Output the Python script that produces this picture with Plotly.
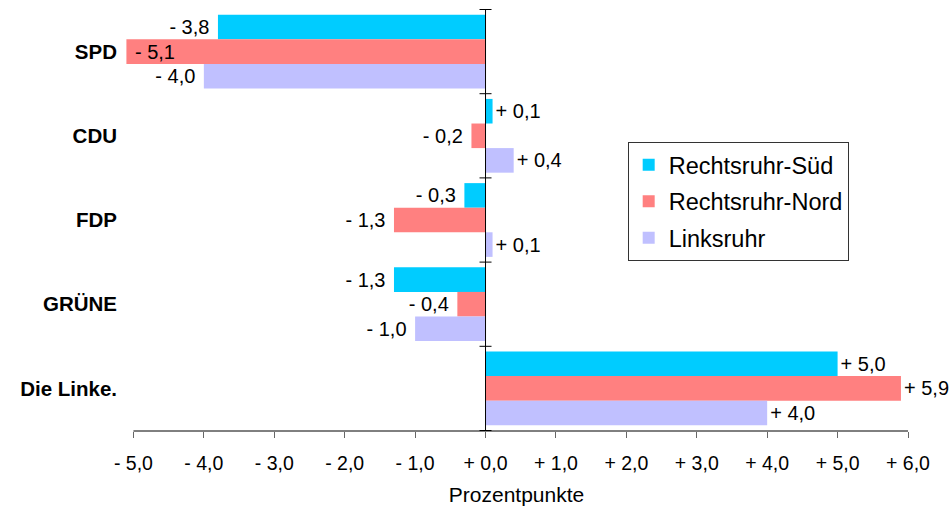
import plotly.graph_objects as go

categories = ["SPD", "CDU", "FDP", "GRÜNE", "Die Linke."]
series_names = ["Rechtsruhr-Süd", "Rechtsruhr-Nord", "Linksruhr"]
sued = [-3.8, 0.1, -0.3, -1.3, 5.0]
nord = [-5.1, -0.2, -1.3, -0.4, 5.9]
links = [-4.0, 0.4, 0.1, -1.0, 4.0]
colors = ["#00CCFF", "#FF8080", "#C0C0FF"]
tick_values = [-5, -4, -3, -2, -1, 0, 1, 2, 3, 4, 5, 6]
axis_title = "Prozentpunkte"

FONT = "Liberation Sans, Arial, sans-serif"
X_RANGE = [-5.12, 6]
NBSP = "\u00a0"


def fmt(v):
    return ("+ " if v >= 0 else "- ") + f"{abs(v):.1f}".replace(".", ",")


def label(v):
    if v < tick_values[0]:
        return NBSP + fmt(v)
    return fmt(v) if v >= 0 else (fmt(v) + NBSP)


tick_text = [fmt(v) for v in tick_values]

fig = go.Figure()
for name, vals, col in zip(series_names, [sued, nord, links], colors):
    positions = ["inside" if v < tick_values[0] else "outside" for v in vals]
    fig.add_trace(go.Bar(
        y=categories, x=vals, name=name, orientation="h",
        marker=dict(color=col, line=dict(width=0)),
        text=[label(v) for v in vals],
        textposition=positions,
        insidetextanchor="end",
        textfont=dict(family=FONT, size=20, color="black"),
        insidetextfont=dict(family=FONT, size=20, color="black"),
        outsidetextfont=dict(family=FONT, size=20, color="black"),
        constraintext="none",
        cliponaxis=False,
        legendgroup=name,
    ))

fig.update_layout(
    width=951, height=508,
    margin=dict(l=125.25, r=43, t=9, b=77, autoexpand=False),
    paper_bgcolor="white", plot_bgcolor="white",
    barmode="group", bargap=0.124, bargroupgap=0,
    font=dict(family=FONT, color="black"),
    showlegend=True,
    legend=dict(
        x=0.642, y=0.685, xanchor="left", yanchor="top",
        bordercolor="#333333", borderwidth=1, bgcolor="white",
        font=dict(family=FONT, size=23.5, color="black"),
        traceorder="grouped", tracegroupgap=3,
    ),
    xaxis=dict(
        range=X_RANGE, tickvals=tick_values, ticktext=tick_text,
        showgrid=False, zeroline=False, showline=False, automargin=False,
        ticks="outside", ticklen=6, tickcolor="#666666", tickwidth=1,
        tickfont=dict(family=FONT, size=19.5, color="black"),
        ticklabelstandoff=9,
        title=dict(text=axis_title, font=dict(family=FONT, size=21, color="black"), standoff=13),
    ),
    xaxis2=dict(
        overlaying="x", anchor="y", side="bottom", matches="x",
        range=X_RANGE, tickvals=tick_values, showticklabels=False,
        showgrid=False, zeroline=False, showline=False,
        ticks="inside", ticklen=6, tickcolor="#666666", tickwidth=1,
    ),
    yaxis=dict(
        autorange="reversed", showgrid=False, zeroline=False, showline=False,
        ticks="", ticklabelstandoff=7, automargin=False,
        tickfont=dict(family=FONT, size=20.5, color="black", weight="bold"),
    ),
)

# x axis line spanning the labelled tick range
fig.add_shape(type="line", xref="x", yref="y domain",
              x0=tick_values[0], x1=tick_values[-1], y0=0, y1=0,
              line=dict(color="black", width=1), layer="above")
# zero line drawn on top of bars, with small crossing ticks at category boundaries
fig.add_shape(type="line", xref="x", yref="y domain", x0=0, x1=0, y0=0, y1=1,
              line=dict(color="black", width=1), layer="above")
for k in range(len(categories) + 1):
    fig.add_shape(type="line", xref="x", yref="y", xsizemode="pixel", xanchor=0,
                  x0=-6, x1=6, y0=k - 0.5, y1=k - 0.5,
                  line=dict(color="black", width=1), layer="above")

# remove the browser's default page margin so the figure fills the window
fig.write_html("out.html", config={"displayModeBar": False},
               post_script="document.body.style.margin='0';")
